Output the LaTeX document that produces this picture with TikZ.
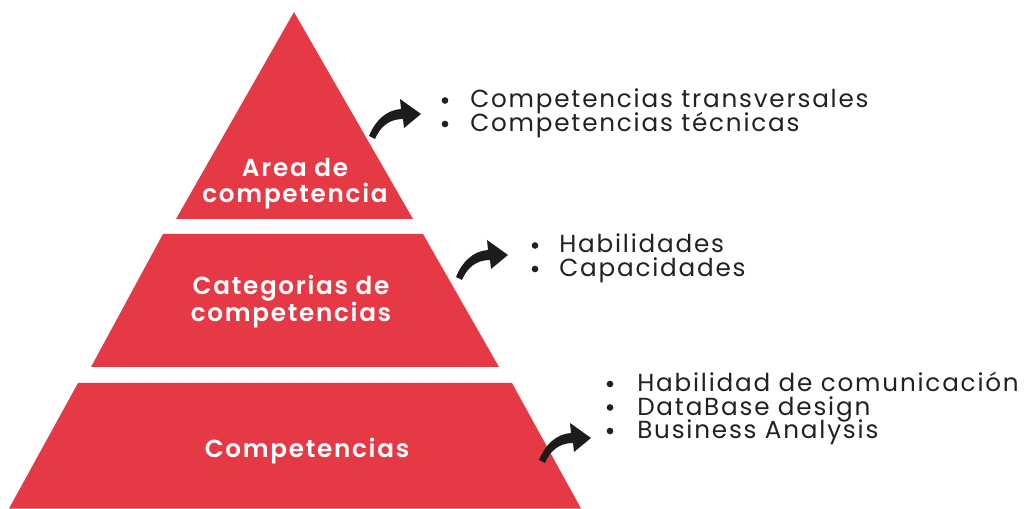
\documentclass[tikz,border=0pt]{standalone}
\usepackage{fontspec}
\setmainfont{Poppins}[LetterSpace=7.3]
\newfontfamily\semib{Poppins}[UprightFont=* SemiBold, LetterSpace=7]
\definecolor{pyrred}{RGB}{230,57,70}
\definecolor{txtdark}{RGB}{33,33,33}
\definecolor{arrowblk}{RGB}{28,28,28}
\tikzset{
  tier/.style={fill=pyrred, draw=none},
  tiertext/.style={text=white, font=\semib\fontsize{18.5}{20}\selectfont, inner sep=0pt, anchor=base},
  itemtext/.style={text=txtdark, font=\fontsize{18.5}{18}\selectfont, inner sep=0pt, anchor=base west},
  bulletdot/.style={circle, fill=txtdark, inner sep=0pt, minimum size=5pt},
  curvarrow/.pic={
    \fill[arrowblk] (-1,-1) .. controls (5,-16) and (16,-27) .. (31,-28)
      -- (30,-38) -- (51,-23) -- (34,-9) -- (33,-18)
      .. controls (19,-18) and (10,-10) .. (5,2) -- cycle;
  }
}
\begin{document}
\begin{tikzpicture}[x=0.75pt,y=-0.75pt]
\useasboundingbox (0,0) rectangle (1028,509);
% pyramid tiers
\fill[tier] (294,12) -- (413,219) -- (176,219) -- cycle;
\fill[tier] (163,234) -- (423,234) -- (499,367) -- (91,367) -- cycle;
\fill[tier] (78,383) -- (512,383) -- (581,508.5) -- (9,508.5) -- cycle;
% tier texts
\node[tiertext] (t1a) at (295,177) {Area de};
\node[tiertext] (t1b) at (295,203) {competencia};
\node[tiertext] (t2a) at (291,295) {Categorias de};
\node[tiertext] (t2b) at (291,321.5) {competencias};
\node[tiertext] (t3a) at (307,457) {Competencias};
% arrows
\pic at (370,137) {curvarrow};
\pic at (457,278) {curvarrow};
\pic at (540,461) {curvarrow};
% group 1
\node[bulletdot] (b1a) at (445,100.5) {};
\node[bulletdot] (b1b) at (445,124) {};
\node[itemtext] (i1a) at (470,108) {Competencias transversales};
\node[itemtext] (i1b) at (470,131.5) {Competencias técnicas};
% group 2
\node[bulletdot] (b2a) at (535,245.5) {};
\node[bulletdot] (b2b) at (535,269) {};
\node[itemtext] (i2a) at (559,253) {Habilidades};
\node[itemtext] (i2b) at (559,276.5) {Capacidades};
% group 3
\node[bulletdot] (b3a) at (610,384) {};
\node[bulletdot] (b3b) at (610,407.5) {};
\node[bulletdot] (b3c) at (610,431) {};
\node[itemtext] (i3a) at (637,392) {Habilidad de comunicación};
\node[itemtext] (i3b) at (637,415.5) {DataBase design};
\node[itemtext] (i3c) at (637,439) {Business Analysis};
\end{tikzpicture}
\end{document}
